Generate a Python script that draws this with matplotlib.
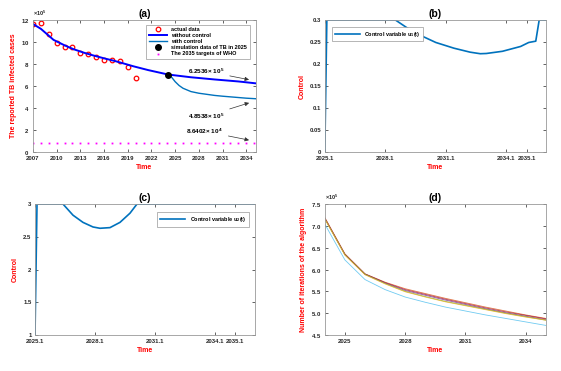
import numpy as np
import matplotlib
matplotlib.use('Agg')
import matplotlib.pyplot as plt

plt.rcParams['font.family'] = ['Liberation Sans', 'DejaVu Sans']
plt.rcParams['font.weight'] = 'bold'
plt.rcParams['axes.labelweight'] = 'bold'
plt.rcParams['axes.titleweight'] = 'bold'
plt.rcParams['mathtext.default'] = 'regular'

S = 1e5  # values below are in units of 10^5
M_BLUE = (0, 0.447, 0.741)
LBL = dict(color='red', fontsize=5, fontweight='bold')

# ---- panel (a) data ----
yr_actual = [2007, 2008, 2009, 2010, 2011, 2012, 2013, 2014, 2015, 2016, 2017, 2018, 2019, 2020]
actual = [11.64, 11.70, 10.76, 9.91, 9.54, 9.51, 9.03, 8.94, 8.63, 8.39, 8.39, 8.24, 7.75, 6.72]
yr_noctrl = [2007, 2008, 2009.6, 2011, 2012.1, 2013.5, 2014.6, 2016, 2017.2, 2018.5, 2019.7,
             2021.6, 2024.1, 2027, 2030, 2033, 2035.2]
noctrl = [11.64, 11.2, 10.2, 9.7, 9.36, 9.02, 8.79, 8.52, 8.31, 8.05, 7.8, 7.45, 7.05,
          6.8, 6.6, 6.42, 6.25]
yr_ctrl = [2024.1, 2024.5, 2025, 2025.5, 2026, 2027, 2028, 2029, 2030, 2031, 2032, 2033, 2034, 2035.2]
ctrl = [7.05, 6.85, 6.4, 6.05, 5.8, 5.5, 5.35, 5.25, 5.15, 5.08, 5.02, 4.96, 4.9, 4.85]
sim_yr, sim_val = 2024.1, 7.05
who_yr = list(range(2007, 2036))
who_val = 0.86402

# ---- panel (b) data ----
t_b = [2025.1, 2025.2, 2028.6, 2029.15, 2029.8, 2030.6, 2031.5, 2032.3, 2032.8, 2033.1, 2033.9,
       2034.8, 2035.2, 2035.55, 2035.72, 2036.05]
u1 = [0, 0.3, 0.3, 0.283, 0.266, 0.249, 0.236, 0.227, 0.2235, 0.224, 0.229, 0.240, 0.249,
      0.252, 0.3, 0.3]

# ---- panel (c) data ----
t_c = [2025.1, 2025.2, 2026.5, 2027.0, 2027.5, 2028.0, 2028.35, 2028.85, 2029.35, 2029.85,
       2030.2, 2036.1]
u2 = [1, 3, 3, 2.83, 2.72, 2.65, 2.63, 2.64, 2.72, 2.86, 3, 3]

# ---- panel (d) data ----
yr_d = list(range(2024, 2036))
iter_series = {
    (0.85, 0.325, 0.098): [7.19, 6.36, 5.90, 5.71, 5.56, 5.45, 5.34, 5.24, 5.14, 5.05, 4.96, 4.88],
    (0.635, 0.078, 0.184): [7.18, 6.35, 5.90, 5.70, 5.54, 5.43, 5.32, 5.22, 5.12, 5.03, 4.95, 4.87],
    (0.494, 0.184, 0.556): [7.17, 6.34, 5.89, 5.69, 5.52, 5.41, 5.30, 5.20, 5.10, 5.01, 4.93, 4.85],
    (0.466, 0.674, 0.188): [7.16, 6.34, 5.89, 5.68, 5.50, 5.38, 5.27, 5.18, 5.09, 5.00, 4.92, 4.84],
    (0.929, 0.694, 0.125): [7.16, 6.33, 5.88, 5.67, 5.49, 5.37, 5.26, 5.17, 5.08, 4.99, 4.91, 4.84],
    (0.301, 0.745, 0.933): [7.04, 6.22, 5.77, 5.54, 5.37, 5.25, 5.14, 5.05, 4.96, 4.88, 4.80, 4.72],
}

ctrl_ticks = [2025.1, 2028.1, 2031.1, 2034.1, 2035.1]


def style(ax):
    ax.tick_params(direction='in', top=True, right=True, labelsize=4.3, length=2,
                   width=0.5, colors='0.15')
    ax.tick_params(axis='x', pad=3)
    ax.tick_params(axis='y', pad=2.5)
    for sp in ax.spines.values():
        sp.set_color('0.6')
        sp.set_linewidth(0.6)
    ax.set_xlabel('Time', labelpad=2, **LBL)


def legend(ax, loc, anchor, **kw):
    leg = ax.legend(loc=loc, bbox_to_anchor=anchor, fontsize=4, fancybox=False,
                    edgecolor='0.6', framealpha=1, **kw)
    leg.get_frame().set_linewidth(0.5)


fig = plt.figure(figsize=(5.61, 3.71), dpi=100)
axa = fig.add_axes([0.0588, 0.590, 0.397, 0.356])
axb = fig.add_axes([0.579, 0.590, 0.394, 0.356])
axc = fig.add_axes([0.0624, 0.097, 0.392, 0.353])
axd = fig.add_axes([0.579, 0.097, 0.394, 0.353])

# ============ (a) ============
ax = axa
ax.plot(yr_actual, np.array(actual) * S, 'o', mfc='none', mec='red', ms=3.3, mew=0.9, label='actual data')
ax.plot(yr_noctrl, np.array(noctrl) * S, '-', color='blue', lw=1.4, label='without control')
ax.plot(yr_ctrl, np.array(ctrl) * S, '-', color=M_BLUE, lw=1.0, label='with control')
ax.plot([sim_yr], [sim_val * S], 'o', color='black', ms=4, label='simulation data of TB in 2025')
ax.plot(who_yr, [who_val * S] * len(who_yr), 's', color='magenta', ms=1.3, mew=0,
        label='The 2035 targets of WHO')
ax.set_xlim(2007, 2035.2)
ax.set_ylim(0, 12 * S)
ax.set_xticks(list(range(2007, 2035, 3)))
ax.set_yticks(np.arange(0, 13, 2) * S)
ax.ticklabel_format(axis='y', style='sci', scilimits=(5, 5), useMathText=True)
ax.yaxis.get_offset_text().set_fontsize(4)
ax.set_title('(a)', fontsize=7.5, pad=2)
ax.set_ylabel('The reported TB infected cases', labelpad=3, **LBL)
style(ax)
legend(ax, 'upper right', (0.985, 0.985), handlelength=3.3, borderpad=0.4, labelspacing=0.2,
       handletextpad=0.8)
arrow = dict(arrowstyle='-|>', color='0.2', lw=0.5, mutation_scale=6)
ax.annotate('6.2536$\\times$ 10$^5$', xy=(2034.7, 6.53 * S), xytext=(2026.6, 7.35 * S),
            fontsize=4.6, va='center', arrowprops=arrow)
ax.annotate('4.8538$\\times$ 10$^5$', xy=(2034.7, 4.55 * S), xytext=(2026.6, 3.25 * S),
            fontsize=4.6, va='center', arrowprops=arrow)
ax.annotate('8.6402$\\times$ 10$^4$', xy=(2034.7, 1.04 * S), xytext=(2026.4, 1.9 * S),
            fontsize=4.6, va='center', arrowprops=arrow)

# ============ (b) ============
ax = axb
ax.plot(t_b, u1, '-', color=M_BLUE, lw=1.2, label='Control variable u$_1$(t)')
ax.set_xlim(2025.1, 2036.05)
ax.set_ylim(0, 0.3)
ax.set_xticks(ctrl_ticks)
ax.set_xticklabels([str(t) for t in ctrl_ticks])
ax.set_yticks(np.arange(0, 0.31, 0.05))
ax.set_yticklabels(['0', '0.05', '0.1', '0.15', '0.2', '0.25', '0.3'])
ax.set_title('(b)', fontsize=7.5, pad=2)
ax.set_ylabel('Control', labelpad=3, **LBL)
style(ax)
legend(ax, 'upper left', (0.02, 0.97), handlelength=4.5, borderpad=0.5)

# ============ (c) ============
ax = axc
ax.plot(t_c, u2, '-', color=M_BLUE, lw=1.2, label='Control variable u$_2$(t)')
ax.set_xlim(2025.1, 2036.1)
ax.set_ylim(1, 3)
ax.set_xticks(ctrl_ticks)
ax.set_xticklabels([str(t) for t in ctrl_ticks])
ax.set_yticks([1, 1.5, 2, 2.5, 3])
ax.set_yticklabels(['1', '1.5', '2', '2.5', '3'])
ax.set_title('(c)', fontsize=7.5, pad=2)
ax.set_ylabel('Control', labelpad=3, **LBL)
style(ax)
legend(ax, 'upper right', (0.985, 0.96), handlelength=4.5, borderpad=0.5)

# ============ (d) ============
ax = axd
for col, vals in iter_series.items():
    ax.plot(yr_d, np.array(vals) * S, '-', color=col, lw=0.6, alpha=0.8)
ax.set_xlim(2024, 2035)
ax.set_ylim(4.5 * S, 7.5 * S)
ax.set_xticks([2025, 2028, 2031, 2034])
ax.set_yticks(np.arange(4.5, 7.51, 0.5) * S)
ax.ticklabel_format(axis='y', style='sci', scilimits=(5, 5), useMathText=True)
ax.yaxis.get_offset_text().set_fontsize(4)
ax.set_title('(d)', fontsize=7.5, pad=2)
ax.set_ylabel('Number of iterations of the algorithm', labelpad=3, **LBL)
style(ax)

fig.savefig('out.png', dpi=100)
